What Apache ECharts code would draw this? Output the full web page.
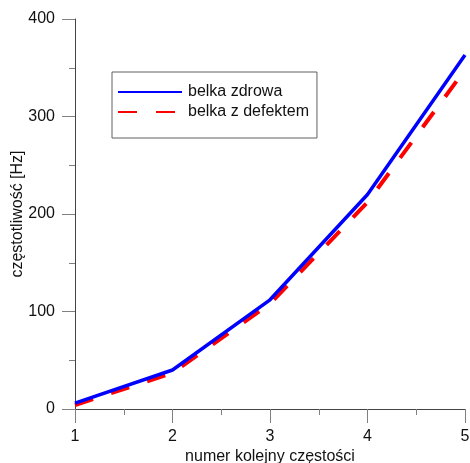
<!DOCTYPE html>
<html>
<head>
<meta charset="utf-8">
<script src="https://cdn.jsdelivr.net/npm/echarts@6/dist/echarts.min.js"></script>
<style>
  html, body { margin: 0; padding: 0; background: #fff; }
  #chart { width: 470px; height: 463px; }
</style>
</head>
<body>
<div id="chart"></div>
<script>
// Numer kolejny częstości własnej
const modes = [1, 2, 3, 4, 5];
// Częstotliwości [Hz] – belka bez uszkodzenia
const healthyBeam = [6, 40, 112, 220, 363];
// Częstotliwości [Hz] – belka z defektem
const damagedBeam = [4, 37, 108, 212, 348];
const yTicks = [0, 100, 200, 300, 400];

const FONT = '"Liberation Sans", Arial, sans-serif';

const chart = echarts.init(document.getElementById('chart'), null, { renderer: 'canvas' });

chart.setOption({
  animation: false,
  backgroundColor: '#ffffff',
  grid: { left: 75, right: 5, top: 19, bottom: 54, containLabel: false, outerBoundsMode: 'none' },
  legend: {
    left: 112,
    top: 72,
    orient: 'vertical',
    width: 205,
    padding: [12, 8, 18, 5],
    itemWidth: 64,
    itemHeight: 16,
    itemGap: 4,
    backgroundColor: '#ffffff',
    borderColor: '#606060',
    borderWidth: 1,
    borderRadius: 0,
    itemStyle: { opacity: 0 },
    textStyle: { fontFamily: FONT, fontSize: 16, color: '#111', padding: [0, 0, 0, 1] },
    data: ['belka zdrowa', 'belka z defektem']
  },
  xAxis: {
    type: 'value',
    min: modes[0],
    max: modes[modes.length - 1],
    interval: 1,
    name: 'numer kolejny częstości',
    nameLocation: 'middle',
    nameGap: 40,
    nameMoveOverlap: false,
    nameTextStyle: { fontFamily: FONT, fontSize: 16, color: '#111' },
    axisLine: { show: true, lineStyle: { color: '#444', width: 1 } },
    axisTick: { show: true, inside: false, length: 14, lineStyle: { color: '#808080' } },
    minorTick: { show: true, splitNumber: 2, length: 6, lineStyle: { color: '#808080' } },
    splitLine: { show: false },
    axisLabel: { margin: 20, fontFamily: FONT, fontSize: 16, color: '#111' }
  },
  yAxis: {
    type: 'value',
    min: yTicks[0],
    max: yTicks[yTicks.length - 1],
    interval: 100,
    name: 'częstotliwość [Hz]',
    nameLocation: 'middle',
    nameGap: 49,
    nameRotate: 90,
    nameMoveOverlap: false,
    nameTextStyle: { fontFamily: FONT, fontSize: 16, color: '#111' },
    axisLine: { show: true, lineStyle: { color: '#444', width: 1 } },
    axisTick: { show: true, inside: false, length: 13, lineStyle: { color: '#808080' } },
    minorTick: { show: true, splitNumber: 2, length: 6, lineStyle: { color: '#808080' } },
    splitLine: { show: false },
    axisLabel: { margin: 20, fontFamily: FONT, fontSize: 16, color: '#111' }
  },
  series: [
    {
      name: 'belka zdrowa',
      type: 'line',
      data: modes.map((m, i) => [m, healthyBeam[i]]),
      symbol: 'none',
      color: '#0000ff',
      lineStyle: { color: '#0000ff', width: 3.5 },
      z: 3
    },
    {
      name: 'belka z defektem',
      type: 'line',
      data: modes.map((m, i) => [m, damagedBeam[i]]),
      symbol: 'none',
      color: '#ff0000',
      lineStyle: { color: '#ff0000', width: 4, type: [19, 19], cap: 'butt' },
      z: 2
    }
  ]
});
</script>
</body>
</html>
